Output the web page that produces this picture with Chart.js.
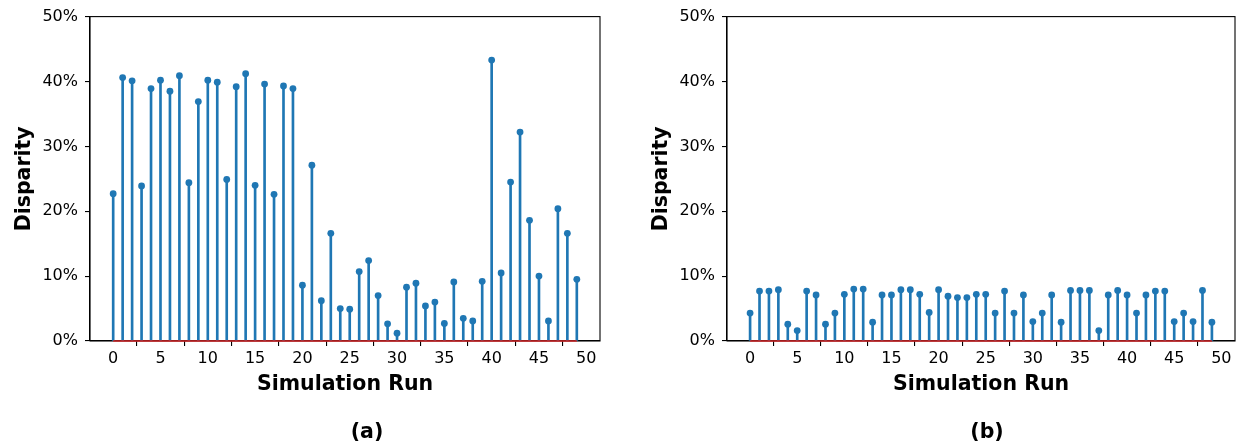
<!DOCTYPE html>
<html lang="en">
<head>
  <meta charset="UTF-8">
  <title>Disparity per simulation run</title>
  <script src="https://cdn.jsdelivr.net/npm/chart.js"></script>
  <style>
    html, body {
      margin: 0;
      padding: 0;
      background: #fff;
      overflow: hidden;
      font-family: "DejaVu Sans", sans-serif;
    }
    .panel {
      position: absolute;
      top: 0;
    }
    .caption {
      position: absolute;
      top: 419px;
      width: 80px;
      margin-left: -40px;
      text-align: center;
      font-weight: bold;
      font-size: 20.5px;
      color: #000;
    }
  </style>
</head>
<body>
  <canvas class="panel" id="chartA" width="610" height="444" style="left:0px"></canvas>
  <canvas class="panel" id="chartB" width="602" height="444" style="left:637px"></canvas>
  <div class="caption" style="left:367px">(a)</div>
  <div class="caption" style="left:987px">(b)</div>

  <script>
    // данные (в процентах)
    const runs = Array.from({ length: 50 }, (_, i) => i);

    const disparityA = [
      22.7, 40.6, 40.1, 23.9, 38.9, 40.2, 38.5, 40.9, 24.4, 36.9,
      40.2, 39.9, 24.9, 39.2, 41.2, 24.0, 39.6, 22.6, 39.3, 38.9,
      8.6, 27.1, 6.2, 16.6, 5.0, 4.9, 10.7, 12.4, 7.0, 2.65,
      1.2, 8.3, 8.9, 5.4, 6.0, 2.7, 9.1, 3.5, 3.1, 9.2,
      43.3, 10.5, 24.5, 32.2, 18.6, 10.0, 3.1, 20.4, 16.6, 9.5
    ];

    const disparityB = [
      4.3, 7.7, 7.7, 7.9, 2.6, 1.6, 7.7, 7.1, 2.6, 4.3,
      7.2, 8.0, 8.0, 2.9, 7.1, 7.1, 7.9, 7.9, 7.2, 4.4,
      7.9, 6.9, 6.7, 6.7, 7.2, 7.2, 4.3, 7.7, 4.3, 7.1,
      3.0, 4.3, 7.1, 2.9, 7.8, 7.8, 7.8, 1.6, 7.1, 7.8,
      7.1, 4.3, 7.1, 7.7, 7.7, 3.0, 4.3, 3.0, 7.8, 2.9
    ];

    const xTicks = [0, 5, 10, 15, 20, 25, 30, 35, 40, 45, 50];
    const yTicks = [0, 10, 20, 30, 40, 50];

    const STEM = '#1f77b4';
    const BASE = '#d62728';
    const FONT = 'DejaVu Sans';

    // рамка со всех сторон, как в matplotlib (под данными, чтобы красная линия была сверху)
    const frame = {
      id: 'frame',
      beforeDatasetsDraw(chart) {
        const { ctx, chartArea: a } = chart;
        ctx.save();
        ctx.strokeStyle = '#000';
        ctx.lineWidth = 1.1;
        ctx.strokeRect(a.left, a.top, a.right - a.left, a.bottom - a.top);
        ctx.restore();
      }
    };

    function makeStem(canvasId, values, padRight) {
      const points = runs.map((r, i) => ({ x: r, y: values[i] }));

      new Chart(document.getElementById(canvasId), {
        type: 'bar',
        data: {
          datasets: [
            {
              type: 'line',
              data: [{ x: runs[0], y: 0 }, { x: runs[runs.length - 1], y: 0 }],
              borderColor: BASE,
              borderWidth: 1.6,
              pointRadius: 0,
              clip: false,
              order: 0
            },
            {
              type: 'line',
              data: points,
              showLine: false,
              pointRadius: 3.4,
              pointBackgroundColor: STEM,
              pointBorderWidth: 0,
              order: 1
            },
            {
              type: 'bar',
              data: points,
              backgroundColor: STEM,
              barThickness: 2,
              order: 2
            }
          ]
        },
        options: {
          responsive: false,
          animation: false,
          events: [],
          layout: { padding: { top: 15, right: padRight, left: 0, bottom: 0 } },
          plugins: {
            legend: { display: false },
            tooltip: { enabled: false }
          },
          scales: {
            x: {
              type: 'linear',
              min: -2.45,
              max: 51.45,
              offset: false,
              afterBuildTicks: (s) => { s.ticks = xTicks.map(v => ({ value: v })); },
              afterFit: (s) => { s.height = 103; },
              grid: { drawOnChartArea: false, drawTicks: true, tickLength: 5, color: '#000', lineWidth: 1.1 },
              border: { display: true, color: '#000', width: 1.1 },
              ticks: { color: '#000', padding: 3, maxRotation: 0, font: { family: FONT, size: 16 } },
              title: {
                display: true,
                text: 'Simulation Run',
                color: '#000',
                padding: { top: 0, bottom: 47 },
                font: { family: FONT, size: 20.5, weight: 'bold' }
              }
            },
            y: {
              min: 0,
              max: 50,
              afterBuildTicks: (s) => { s.ticks = yTicks.map(v => ({ value: v })); },
              afterFit: (s) => { s.width = 90; },
              grid: { drawOnChartArea: false, drawTicks: true, tickLength: 5, color: '#000', lineWidth: 1.1 },
              border: { display: true, color: '#000', width: 1.1 },
              ticks: {
                color: '#000',
                padding: 7,
                font: { family: FONT, size: 16 },
                callback: (v) => v + '%'
              },
              title: {
                display: true,
                text: 'Disparity',
                color: '#000',
                padding: { top: 12, bottom: 0 },
                font: { family: FONT, size: 20.5, weight: 'bold' }
              }
            }
          }
        },
        plugins: [frame]
      });
    }

    makeStem('chartA', disparityA, 10);
    makeStem('chartB', disparityB, 2);
  </script>
</body>
</html>
